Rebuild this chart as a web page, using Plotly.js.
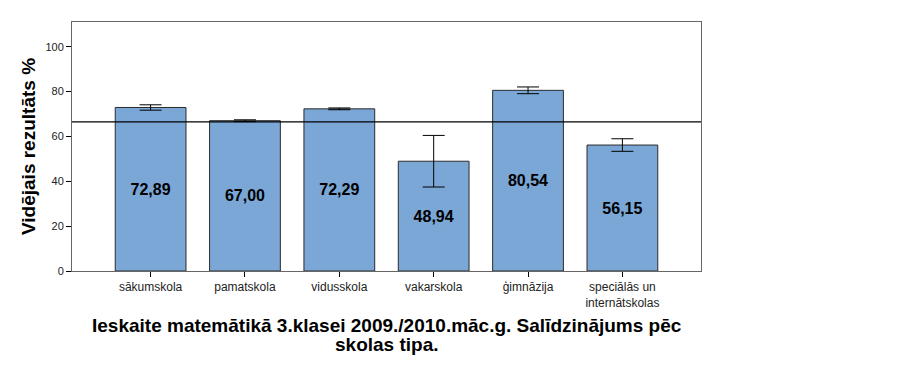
<!DOCTYPE html>
<html><head><meta charset="utf-8">
<script src="https://cdn.plot.ly/plotly-3.0.1.min.js"></script>
<style>body{margin:0;background:#fff}#c{width:923px;height:367px}</style>
</head><body><div id="c"></div>
<script>
const categories = ["sākumskola","pamatskola","vidusskola","vakarskola","ģimnāzija","speciālās un<br>internātskolas"];
const means = [72.89, 67.00, 72.29, 48.94, 80.54, 56.15];
const errUpper = [1.2, 0.4, 0.4, 11.5, 1.5, 2.8];
const errLower = [1.2, 0.4, 0.4, 11.5, 1.5, 2.8];
const overallMean = 66.5;
const yTicks = [0, 20, 40, 60, 80, 100];
const titleLines = ["Ieskaite matemātikā 3.klasei 2009./2010.māc.g. Salīdzinājums pēc", "skolas tipa."];
const yTitle = "Vidējais rezultāts %";

const xIdx = categories.map((_, i) => i);
const labels = means.map(v => v.toFixed(2).replace('.', ','));
const F = "Arial, 'Liberation Sans', sans-serif";

Plotly.newPlot('c', [{
  type: 'bar',
  x: xIdx,
  y: means,
  width: 0.75,
  text: labels,
  textposition: 'inside',
  insidetextanchor: 'middle',
  textangle: 0,
  textfont: {family: F, size: 16, color: '#000', weight: 'bold'},
  marker: {color: 'rgb(123,167,214)', line: {color: '#2b2b2b', width: 1}},
  error_y: {type: 'data', symmetric: false, array: errUpper, arrayminus: errLower,
            color: '#000', thickness: 1, width: 11},
  hoverinfo: 'none'
}], {
  width: 923, height: 367,
  margin: {l: 72, r: 222, t: 22, b: 96},
  paper_bgcolor: '#fff', plot_bgcolor: '#fff',
  showlegend: false,
  font: {family: F, color: '#000'},
  xaxis: {
    range: [-0.833, 5.833],
    tickmode: 'array', tickvals: xIdx, ticktext: categories,
    ticks: 'outside', ticklen: 5, tickcolor: '#000',
    tickfont: {family: F, size: 12, color: '#222'},
    showgrid: false, zeroline: false,
    showline: true, linecolor: '#666', linewidth: 1, mirror: true
  },
  yaxis: {
    range: [0, 111],
    tickmode: 'array', tickvals: yTicks,
    ticks: 'outside', ticklen: 5, tickcolor: '#000',
    tickfont: {family: F, size: 11, color: '#222'},
    showgrid: false, zeroline: false,
    showline: true, linecolor: '#666', linewidth: 1, mirror: true,
    title: {text: yTitle, font: {family: F, size: 19, color: '#000', weight: 'bold'}, standoff: 4}
  },
  shapes: [{type: 'line', xref: 'paper', x0: 0, x1: 1, yref: 'y', y0: overallMean, y1: overallMean,
            line: {color: '#000', width: 1.2}, layer: 'above'}],
  annotations: titleLines.map((t, i) => ({
    text: '<b>' + t + '</b>', showarrow: false,
    xref: 'paper', yref: 'paper', x: 0.5, y: 0, xanchor: 'center', yanchor: 'middle',
    yshift: i === 0 ? -54 : -73,
    font: {family: F, size: 19, color: '#000'}
  }))
}, {displayModeBar: false, staticPlot: true});
</script>
</body></html>
